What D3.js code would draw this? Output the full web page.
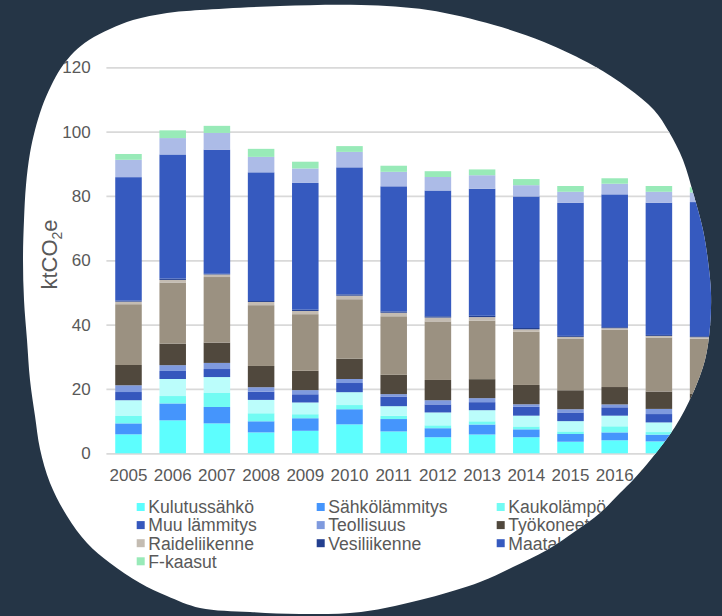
<!DOCTYPE html>
<html>
<head>
<meta charset="utf-8">
<script src="https://cdn.jsdelivr.net/npm/d3@7"></script>
<style>
  html, body { margin: 0; padding: 0; background: #253546; }
  svg { display: block; }
  text { font-family: "Liberation Sans", Arial, Helvetica, sans-serif; }
</style>
</head>
<body>
<svg id="chart" width="722" height="616"></svg>
<script>
// ---- data ----
const years = [2005, 2006, 2007, 2008, 2009, 2010, 2011, 2012, 2013, 2014, 2015, 2016, 2017, 2018];
const seriesNames = ["Kulutussähkö", "Sähkölämmitys", "Kaukolämpö", "Öljylämmitys", "Muu lämmitys",
  "Teollisuus", "Työkoneet", "Tieliikenne", "Raideliikenne", "Vesiliikenne", "Maatalous",
  "Jätteiden käsittely", "F-kaasut"];
const kulutussahko   = [5.9, 10.25, 9.3, 6.5, 7.0, 9.0, 6.8, 5.0, 5.85, 5.0, 3.6, 4.05, 3.7, 3.5];
const sahkolammitys  = [3.4, 5.25, 5.1, 3.45, 3.9, 4.7, 3.85, 2.8, 3.1, 2.45, 2.4, 2.45, 2.1, 2.0];
const kaukolampo     = [2.3, 2.3, 4.35, 2.5, 1.25, 1.3, 1.0, 0.9, 1.0, 0.9, 0.8, 1.9, 0.8, 0.8];
const oljylammitys   = [4.9, 5.3, 4.95, 4.15, 3.65, 4.0, 3.0, 4.0, 3.45, 3.35, 3.2, 3.3, 3.0, 2.8];
const muuLammitys    = [2.55, 2.5, 2.5, 2.55, 2.55, 2.85, 3.0, 2.5, 2.5, 2.75, 2.7, 2.6, 2.6, 2.5];
const teollisuus     = [2.1, 1.8, 1.9, 1.4, 1.3, 1.25, 0.75, 1.3, 1.25, 0.8, 1.0, 0.9, 1.6, 1.5];
const tyokoneet      = [6.3, 6.7, 6.3, 6.6, 6.0, 6.3, 6.0, 6.3, 5.9, 6.0, 5.9, 5.4, 5.4, 5.5];
const tieliikenne    = [18.9, 19.0, 20.4, 18.9, 17.6, 18.5, 18.2, 18.2, 18.2, 16.5, 16.1, 17.8, 16.8, 17.0];
const raideliikenne  = [0.8, 0.8, 0.8, 1.0, 1.0, 1.1, 1.1, 1.2, 1.1, 0.8, 0.5, 0.5, 0.5, 0.5];
const vesiliikenne   = [0.3, 0.4, 0.2, 0.3, 0.4, 0.4, 0.4, 0.4, 0.4, 0.4, 0.3, 0.3, 0.3, 0.3];
const maatalous      = [38.4, 38.6, 38.6, 40.0, 39.4, 39.5, 38.9, 39.1, 39.5, 40.9, 41.4, 41.3, 41.1, 41.7];
const jatteet        = [5.4, 5.1, 5.2, 4.8, 4.5, 4.8, 4.5, 4.2, 4.2, 3.5, 3.4, 3.3, 3.4, 3.0];
const fkaasut        = [1.8, 2.4, 2.2, 2.5, 2.1, 1.8, 1.9, 1.8, 1.8, 1.9, 1.8, 1.7, 1.8, 1.6];
const yTicks = [0, 20, 40, 60, 80, 100, 120];
const yLabel = ["ktCO", "2", "e"];

const seriesValues = [kulutussahko, sahkolammitys, kaukolampo, oljylammitys, muuLammitys,
  teollisuus, tyokoneet, tieliikenne, raideliikenne, vesiliikenne, maatalous, jatteet, fkaasut];
const colors = ["#5dfefe", "#4595fc", "#72fbf3", "#bbfdfb", "#3557bd", "#7f9ade", "#50483d",
  "#9b9181", "#c4bcb2", "#233f8f", "#365abf", "#acbbe7", "#98eab8"];

// ---- table for the stack ----
const table = years.map((yr, i) => {
  const row = { year: yr };
  seriesNames.forEach((n, k) => row[n] = seriesValues[k][i]);
  return row;
});
const stacked = d3.stack().keys(seriesNames)(table);

// ---- layout ----
const svg = d3.select("#chart");
const W = 722, H = 616;
svg.append("rect").attr("width", W).attr("height", H).attr("fill", "#253546");

// blob outline (decorative background shape)
const blobPts = [[200,10],[280,6],[361,5],[428,10],[494,25],[544,42],[594,66],[628,88],[654,110],
  [669,132],[683,160],[694,196],[703,230],[708,261],[711,293],[710,327],[705,360],[693,393],
  [675,427],[652,458],[633,480],[620,493],[600,513],[577,530],[547,550],[513,567],[480,582],
  [428,598],[361,612],[300,614],[250,612],[200,608],[167,596],[140,583],[110,563],[87,543],
  [67,516],[50,483],[40,449],[35,416],[30,380],[27,340],[24,300],[23,260],[24,220],[26,185],
  [30,153],[35,130],[42,107],[51,86],[61,68],[74,52],[89,40],[110,29],[133,20],[167,13]];
const blobPath = d3.line().curve(d3.curveCatmullRomClosed.alpha(0.5))(blobPts);
svg.append("defs").append("clipPath").attr("id", "blobclip")
  .append("path").attr("d", blobPath);
svg.append("path").attr("d", blobPath).attr("fill", "#ffffff");

const g = svg.append("g").attr("clip-path", "url(#blobclip)");

const left = 106.4, step = 44.2;
const right = left + step * years.length;
const x = d3.scaleBand().domain(years).range([left, right]).paddingInner(0.4).paddingOuter(0.2);
const y = d3.scaleLinear().domain([0, 120]).range([453.3, 67.3]);

// gridlines + y tick labels
const yAx = g.append("g").attr("transform", `translate(${left},0)`)
  .call(d3.axisLeft(y).tickValues(yTicks).tickSize(-(right - left)).tickPadding(15.7));
yAx.select(".domain").remove();
yAx.selectAll(".tick line").attr("stroke", "#d9d9d9").attr("stroke-width", 1.8);
yAx.selectAll(".tick text").attr("fill", "#595959").attr("font-size", 17)
  .style("font-family", '"Liberation Sans", Arial, sans-serif');

// bars
g.append("g").selectAll("g").data(stacked).join("g")
  .attr("fill", (d, i) => colors[i])
  .selectAll("rect").data(d => d).join("rect")
  .attr("x", d => x(d.data.year))
  .attr("width", x.bandwidth())
  .attr("y", d => y(d[1]))
  .attr("height", d => Math.max(0, y(d[0]) - y(d[1])));

// x axis labels
const xAx = g.append("g").attr("transform", `translate(0,${y(0)})`)
  .call(d3.axisBottom(x).tickSize(0).tickPadding(15.3));
xAx.select(".domain").remove();
xAx.selectAll(".tick text").attr("fill", "#595959").attr("font-size", 17)
  .style("font-family", '"Liberation Sans", Arial, sans-serif');

// y axis title
const yt = g.append("text")
  .attr("transform", "translate(56.5,254.5) rotate(-90)")
  .attr("text-anchor", "middle")
  .attr("fill", "#595959")
  .attr("font-size", 22);
yt.append("tspan").text(yLabel[0]);
yt.append("tspan").attr("font-size", 14).attr("dy", 5).text(yLabel[1]);
yt.append("tspan").attr("dy", -5).text(yLabel[2]);

// legend (4 columns; the fourth column lies entirely outside the visible shape, as in the reference)
const legendItems = seriesNames.map((n, i) => ({ name: n, color: colors[i], col: i % 4, row: Math.floor(i / 4) }))
  .filter(d => d.col < 3);
const items = g.append("g").selectAll("g").data(legendItems).join("g")
  .attr("transform", d => `translate(${136.7 + 180 * d.col},${507 + 18.1 * d.row})`);
items.append("rect").attr("x", 0).attr("y", -4).attr("width", 8).attr("height", 8)
  .attr("fill", d => d.color);
items.append("text").attr("x", 11.6).attr("dy", "0.36em")
  .attr("fill", "#595959").attr("font-size", 17.6).text(d => d.name);
</script>
</body>
</html>
